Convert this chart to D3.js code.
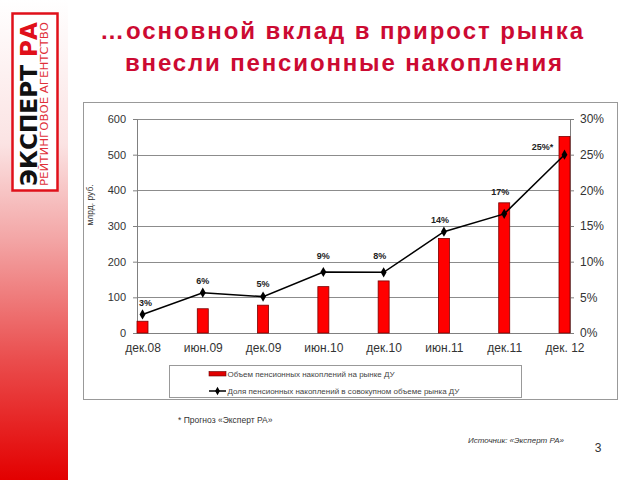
<!DOCTYPE html>
<html><head><meta charset="utf-8">
<script src="https://cdn.jsdelivr.net/npm/d3@7"></script>
<style>body{margin:0;background:#fff}svg{display:block}</style>
</head><body>
<svg id="c" width="640" height="480"></svg>
<script>
const categories = ["дек.08","июн.09","дек.09","июн.10","дек.10","июн.11","дек.11","дек. 12"];
const volumes = [33, 68, 78, 130, 146, 265, 365, 551];
const shares = [0.026, 0.0565, 0.051, 0.0855, 0.085, 0.142, 0.167, 0.25];
const shareLabels = ["3%","6%","5%","9%","8%","14%","17%","25%*"];
const leftTicks = [0,100,200,300,400,500,600];
const rightTicks = [0,0.05,0.10,0.15,0.20,0.25,0.30];
const legendLabels = ["Объем пенсионных накоплений на рынке ДУ","Доля пенсионных накоплений в совокупном объеме рынка ДУ"];
const titleLines = ["…основной вклад в прирост рынка","внесли пенсионные накопления"];

// label placement offsets (layout, not data)
const labelDy = [-11,-12,-13,-16,-16,-12,-22,-8];
const labelDx = [3,0,0,0,-4,-4,-4,-22];
const titleLayout = [{x:341.5,y:39,w:483},{x:343.5,y:71,w:437}];

const svg = d3.select("#c");
const font = "'Liberation Sans', Arial, sans-serif";

// left gradient strip
const defs = svg.append("defs");
const g1 = defs.append("linearGradient").attr("id","strip").attr("x1",0).attr("y1",0).attr("x2",0).attr("y2",1);
[[0,"#ffffff"],[0.3,"#fbe3e3"],[0.5,"#f3a5a5"],[0.75,"#ea4d4d"],[1,"#e30000"]].forEach(s=>g1.append("stop").attr("offset",s[0]).attr("stop-color",s[1]));
svg.append("rect").attr("x",0).attr("y",0).attr("width",68).attr("height",480).attr("fill","url(#strip)");

// logo
const logo = svg.append("g");
logo.append("rect").attr("x",12.5).attr("y",13.5).attr("width",45).attr("height",177).attr("fill","#fff").attr("stroke","#e0101a").attr("stroke-width",2.5);
const lt = logo.append("text").attr("transform","translate(37,186) rotate(-90)")
  .attr("font-family","'Liberation Sans Narrow', 'DejaVu Sans Condensed', sans-serif").attr("font-weight","bold").attr("font-size",23)
  .attr("textLength",164).attr("lengthAdjust","spacingAndGlyphs");
lt.append("tspan").attr("fill","#111").text("ЭКСПЕРТ ");
lt.append("tspan").attr("fill","#e0101a").text("РА");
logo.append("text").attr("transform","translate(48,186) rotate(-90)")
  .attr("font-family","'Liberation Sans Narrow', 'DejaVu Sans Condensed', sans-serif").attr("font-size",10.5).attr("fill","#e0303a")
  .attr("textLength",164).attr("lengthAdjust","spacingAndGlyphs").text("РЕЙТИНГОВОЕ АГЕНТСТВО");

// title
svg.append("g").selectAll("text").data(titleLines).join("text")
  .attr("x",(d,i)=>titleLayout[i].x - titleLayout[i].w/2).attr("y",(d,i)=>titleLayout[i].y)
  .attr("textLength",(d,i)=>titleLayout[i].w).attr("lengthAdjust","spacing")
  .attr("font-family",font).attr("font-weight","bold").attr("font-size",24).attr("fill","#cc0a32")
  .text(d=>d);

// chart border
svg.append("rect").attr("x",83.5).attr("y",102.5).attr("width",534).attr("height",297).attr("fill","#fff").attr("stroke","#999").attr("stroke-width",1);

const x = d3.scalePoint().domain(categories).range([142.5,564.5]);
const yL = d3.scaleLinear().domain([0,600]).range([333,119]);
const yR = d3.scaleLinear().domain([0,0.30]).range([333,119]);
const left = 137, right = 570;

// gridlines
svg.append("g").selectAll("line").data(leftTicks.slice(1)).join("line")
  .attr("x1",left).attr("x2",right).attr("y1",d=>Math.round(yL(d))+0.5).attr("y2",d=>Math.round(yL(d))+0.5)
  .attr("stroke","#8c8c8c").attr("stroke-width",1);

// axes
const axL = svg.append("g").attr("transform",`translate(${left},0)`)
  .call(d3.axisLeft(yL).tickValues(leftTicks).tickSize(4).tickPadding(7).tickFormat(d3.format("d")));
const axR = svg.append("g").attr("transform",`translate(${right},0)`)
  .call(d3.axisRight(yR).tickValues(rightTicks).tickSize(4).tickPadding(6).tickFormat(d3.format(".0%")));
const axB = svg.append("g").attr("transform",`translate(0,333)`)
  .call(d3.axisBottom(x).tickSize(0).tickPadding(10));
axB.select(".domain").attr("d",`M${left},0.5H${right}`);
[axL,axR,axB].forEach(a=>{a.selectAll(".domain,line").attr("stroke","#808080");a.selectAll("text").attr("fill","#333").attr("font-family",font);});
axL.selectAll("text").attr("font-size",11);
axR.selectAll("text").attr("font-size",12);
axB.selectAll("text").attr("font-size",12);

// y axis title
svg.append("text").attr("transform","translate(93,205) rotate(-90)").attr("text-anchor","middle")
  .attr("font-family",font).attr("font-size",8.5).attr("fill","#333").text("млрд. руб.");

// bars
const bw = 11;
svg.append("g").selectAll("rect").data(volumes).join("rect")
  .attr("x",(d,i)=>x(categories[i])-bw/2).attr("y",d=>yL(d)).attr("width",bw).attr("height",d=>333-yL(d))
  .attr("fill","#ff0000").attr("stroke","#7a0000").attr("stroke-width",0.8);

// line
const line = d3.line().x((d,i)=>x(categories[i])).y(d=>yR(d));
svg.append("path").datum(shares).attr("d",line).attr("fill","none").attr("stroke","#000").attr("stroke-width",1.5);
const diamond = d3.symbol().type(d3.symbolDiamond).size(30);
svg.append("g").selectAll("path").data(shares).join("path")
  .attr("transform",(d,i)=>`translate(${x(categories[i])},${yR(d)})`).attr("d",diamond).attr("fill","#000");

// share labels
svg.append("g").selectAll("text").data(shares).join("text")
  .attr("x",(d,i)=>x(categories[i])+labelDx[i]).attr("y",(d,i)=>yR(d)+labelDy[i]+3)
  .attr("text-anchor","middle").attr("font-family",font).attr("font-weight","bold").attr("font-size",9).attr("fill","#222")
  .text((d,i)=>shareLabels[i]);

// legend
const lg = svg.append("g");
lg.append("rect").attr("x",169.5).attr("y",365.5).attr("width",352).attr("height",32).attr("fill","#fff").attr("stroke","#999");
lg.append("rect").attr("x",209).attr("y",371.5).attr("width",17).attr("height",4.5).attr("fill","#e00000").attr("stroke","#600").attr("stroke-width",0.6);
lg.append("line").attr("x1",209).attr("x2",226).attr("y1",391).attr("y2",391).attr("stroke","#000").attr("stroke-width",1.5);
lg.append("path").attr("transform","translate(217.5,391)").attr("d",d3.symbol().type(d3.symbolDiamond).size(20)).attr("fill","#000");
lg.selectAll("text.l").data(legendLabels).join("text").attr("class","l")
  .attr("x",227.5).attr("y",(d,i)=>377+i*17).attr("font-family",font).attr("font-size",8).attr("fill","#444").text(d=>d);

// footnotes
svg.append("text").attr("x",178).attr("y",423).attr("font-family",font).attr("font-size",8.5).attr("fill","#333").text("* Прогноз «Эксперт РА»");
svg.append("text").attr("x",564).attr("y",443).attr("text-anchor","end").attr("font-family",font).attr("font-style","italic").attr("font-size",8).attr("fill","#333").text("Источник: «Эксперт РА»");
svg.append("text").attr("x",598).attr("y",452).attr("text-anchor","middle").attr("font-family",font).attr("font-size",12).attr("fill","#333").text("3");
</script>
</body></html>
